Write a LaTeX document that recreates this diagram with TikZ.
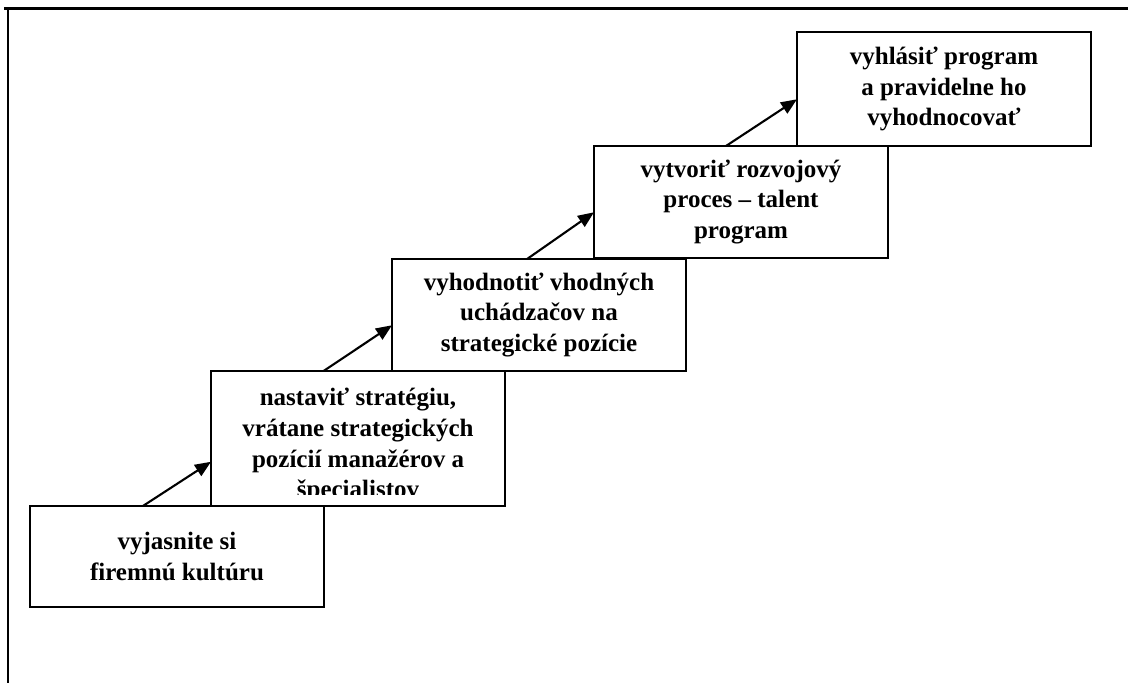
\documentclass[tikz,border=0pt]{standalone}
\usepackage{fontspec}
\setmainfont{Liberation Serif}
\usetikzlibrary{positioning}
\usetikzlibrary{arrows.meta}

\begin{document}
\begin{tikzpicture}
		[x=1pt, y=1pt,
		steptext/.style = {align=center, font=\bfseries\fontsize{25}{30.7}\selectfont},
		stepbox/.style = {draw, steptext, line width=1.4pt, outer sep=0pt, anchor=north west, minimum width=294pt},
		steparrow/.style = {-{Triangle[length=16pt, width=13pt]}, line width=2.1pt}]
	\useasboundingbox (0,0) rectangle (1128,683);
	% cell border
	\draw[line width=3pt] (4,674) -- (1128,674);
	\draw[line width=2pt] (8,675.7) -- (8,0);
	% steps
	\node[stepbox, minimum height=101pt] (1) at (30,177) {vyjasnite si\\firemnú kultúru};
	\node[stepbox, minimum height=135pt] (2) at (211,312) {};
	\begin{scope}
		\clip ([yshift=11pt]2.south west) rectangle (2.north east);
		\node[steptext, inner sep=0pt] (2t) [below=17pt of 2.north] {nastaviť stratégiu,\\vrátane strategických\\pozícií manažérov a\\špecialistov};
	\end{scope}
	\node[stepbox, minimum height=112pt] (3) at (392,424) {vyhodnotiť vhodných\\uchádzačov na\\strategické pozície};
	\node[stepbox, minimum height=112pt] (4) at (594,537) {vytvoriť rozvojový\\proces – talent\\program};
	\node[stepbox, minimum height=114pt] (5) at (797,651) {vyhlásiť program\\a pravidelne ho\\vyhodnocovať};
	% arrows between steps
	\draw[steparrow] (1.124) -- (2.189);
	\draw[steparrow] (2.117) -- (3.184);
	\draw[steparrow] (3.102) -- (4.184);
	\draw[steparrow] (4.105) -- (5.184);
\end{tikzpicture}
\end{document}
